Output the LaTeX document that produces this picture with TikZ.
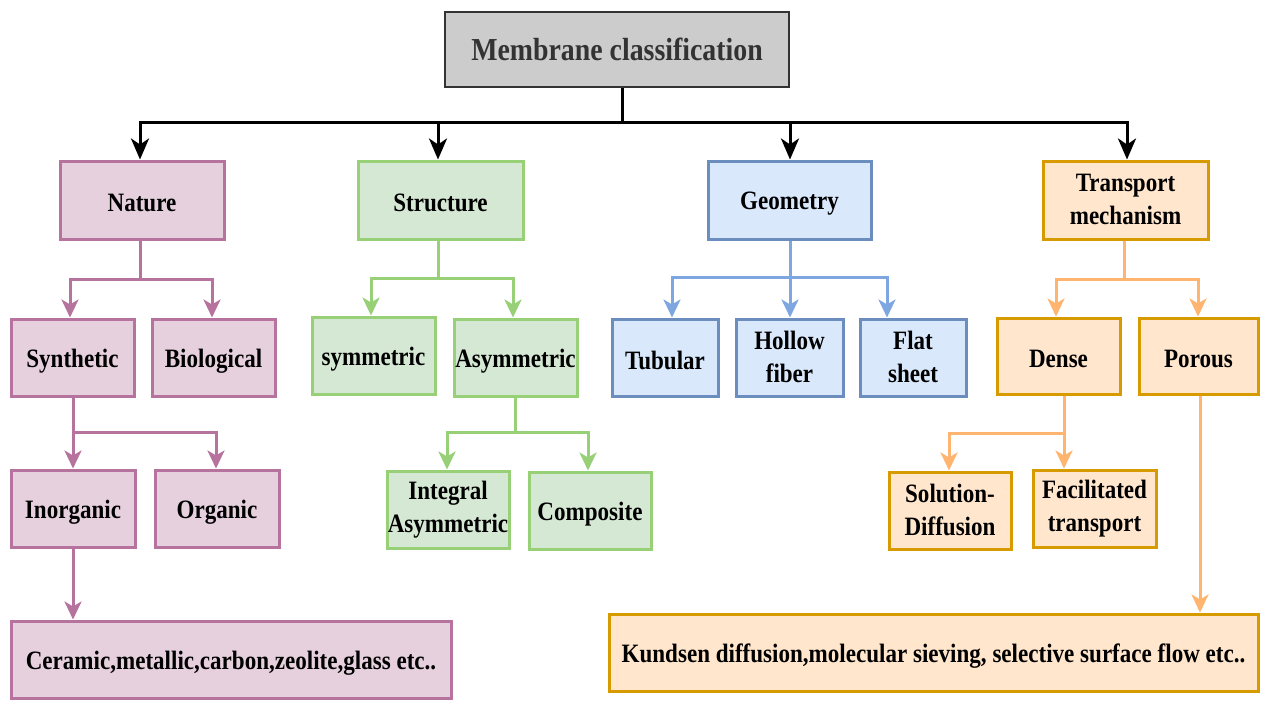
\documentclass[tikz,border=0pt]{standalone}
\usepackage{fontspec}
\setmainfont{Liberation Serif}[FakeStretch=0.87]
\usetikzlibrary{arrows.meta}
\definecolor{natF}{HTML}{E6D0DE}\definecolor{natD}{HTML}{B5739D}
\definecolor{strF}{HTML}{D5E8D4}\definecolor{strD}{HTML}{97D077}
\definecolor{geoF}{HTML}{DAE8FC}\definecolor{geoD}{HTML}{6C8EBF}\definecolor{geoL}{HTML}{7EA6E0}
\definecolor{traF}{HTML}{FFE6CC}\definecolor{traD}{HTML}{D79B00}\definecolor{traL}{HTML}{FFB570}
\definecolor{titF}{HTML}{CCCCCC}\definecolor{titD}{HTML}{333333}
\newcommand\bstrut{\rule[-2pt]{0pt}{27pt}}
\begin{document}
\begin{tikzpicture}[x=1pt,y=-1pt,
  box/.style={draw, line width=3pt, inner sep=0pt, align=center, text=black,
    font=\bfseries\fontsize{26.5}{33}\selectfont,
    execute at begin node=\bstrut, execute at end node=\bstrut},
  titlebox/.style={box, draw=titD, fill=titF, line width=2.5pt, text=titD,
    font=\bfseries\fontsize{32}{36}\selectfont},
  natbox/.style={box, draw=natD, fill=natF},
  strbox/.style={box, draw=strD, fill=strF},
  geobox/.style={box, draw=geoD, fill=geoF},
  trabox/.style={box, draw=traD, fill=traF},
  conn/.style={line width=3pt, line join=miter, -{Stealth[length=18pt,width=17pt,inset=5pt]}},
  blkconn/.style={conn, draw=black, -{Stealth[length=21pt,width=18pt,inset=6pt]}},
  natconn/.style={conn, draw=natD, color=natD},
  strconn/.style={conn, draw=strD, color=strD},
  geoconn/.style={conn, draw=geoL, color=geoL},
  traconn/.style={conn, draw=traL, color=traL},
]
\useasboundingbox (0,0) rectangle (1261,701);
\fill[white] (0,0) rectangle (1261,701);

% nodes
\node[titlebox, minimum width=344pt, minimum height=75pt] (title) at (617,49.5) {Membrane classification};

\node[natbox, minimum width=164pt, minimum height=78pt] (nature) at (142,200) {Nature};
\node[strbox, minimum width=165pt, minimum height=78pt] (structure) at (440.5,200) {Structure};
\node[geobox, minimum width=163pt, minimum height=78pt] (geometry) at (789.5,200) {Geometry};
\node[trabox, minimum width=165pt, minimum height=78pt] (transport) at (1125.5,200) {Transport\\mechanism};

\node[natbox, minimum width=123pt, minimum height=77pt] (synthetic) at (72.5,357.5) {Synthetic};
\node[natbox, minimum width=123pt, minimum height=77pt] (biological) at (213.5,357.5) {Biological};
\node[strbox, minimum width=123pt, minimum height=77pt] (symmetric) at (373.5,355.5) {symmetric};
\node[strbox, minimum width=123pt, minimum height=77pt] (asymmetric) at (515.5,357.5) {Asymmetric};
\node[geobox, minimum width=106pt, minimum height=77pt] (tubular) at (665,357.5) {Tubular};
\node[geobox, minimum width=107pt, minimum height=77pt] (hollow) at (789.5,357.5) {Hollow\\fiber};
\node[geobox, minimum width=106pt, minimum height=77pt] (flat) at (913,357.5) {Flat\\sheet};
\node[trabox, minimum width=123pt, minimum height=76pt] (dense) at (1058.5,356) {Dense};
\node[trabox, minimum width=119pt, minimum height=76pt] (porous) at (1198.5,356) {Porous};

\node[natbox, minimum width=124pt, minimum height=77pt] (inorganic) at (73,508.5) {Inorganic};
\node[natbox, minimum width=124pt, minimum height=77pt] (organic) at (217,508.5) {Organic};
\node[strbox, minimum width=122pt, minimum height=77pt] (integral) at (448,509.5) {Integral\\Asymmetric};
\node[strbox, minimum width=122pt, minimum height=77pt] (composite) at (590,510.5) {Composite};
\node[trabox, minimum width=122pt, minimum height=77pt] (solution) at (950,510.5) {Solution-\\Diffusion};
\node[trabox, minimum width=123pt, minimum height=77pt] (facilitated) at (1094.5,508.5) {Facilitated\\transport};

\node[natbox, minimum width=440pt, minimum height=77pt] (ceramic) at (231,659.5) {Ceramic,metallic,carbon,zeolite,glass etc..};
\node[trabox, minimum width=649pt, minimum height=77pt] (kundsen) at (933.5,652.5) {Kundsen diffusion,molecular sieving, selective surface flow etc..};

% connectors
\foreach \n/\x in {nature/140, structure/438, geometry/790, transport/1127}
  \draw[blkconn] (title.south -| 622,0) -- (622,122) -| (\n.north -| \x,0);

\foreach \n/\x in {synthetic/70, biological/212}
  \draw[natconn] (nature.south -| 140,0) -- (140,279) -| (\n.north -| \x,0);
\foreach \n/\x in {inorganic/73, organic/216}
  \draw[natconn] (synthetic.south -| 73,0) -- (73,432) -| (\n.north -| \x,0);
\draw[natconn] (inorganic.south -| 73,0) -- (ceramic.north -| 73,0);

\foreach \n/\x in {symmetric/371, asymmetric/513}
  \draw[strconn] (structure.south -| 438,0) -- (438,278) -| (\n.north -| \x,0);
\foreach \n/\x in {integral/447, composite/588}
  \draw[strconn] (asymmetric.south -| 515,0) -- (515,432) -| (\n.north -| \x,0);

\foreach \n/\x in {tubular/672, hollow/790, flat/887}
  \draw[geoconn] (geometry.south -| 790,0) -- (790,277) -| (\n.north -| \x,0);

\foreach \n/\x in {dense/1056, porous/1198}
  \draw[traconn] (transport.south -| 1124,0) -- (1124,279) -| (\n.north -| \x,0);
\foreach \n/\x in {solution/949, facilitated/1064}
  \draw[traconn] (dense.south -| 1064,0) -- (1064,433) -| (\n.north -| \x,0);
\draw[traconn] (porous.south -| 1200,0) -- (kundsen.north -| 1200,0);
\end{tikzpicture}
\end{document}
